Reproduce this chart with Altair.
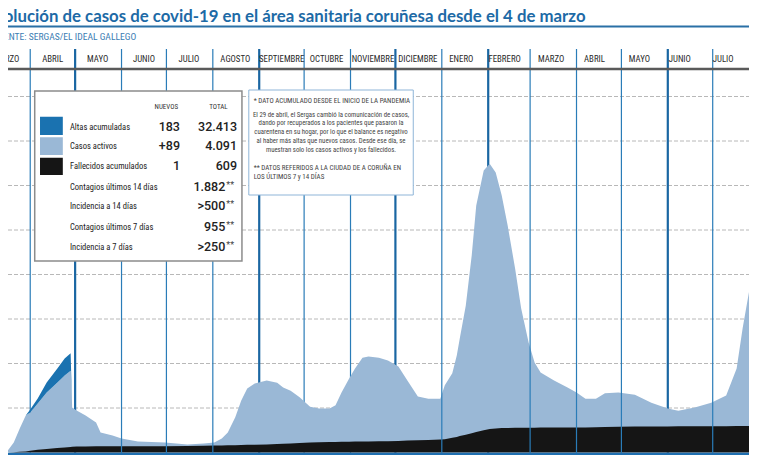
import altair as alt
import pandas as pd

# ---------------- data ----------------
fechas = [
    "2020-03-04", "2020-03-10", "2020-03-17", "2020-03-21", "2020-03-25", "2020-03-29",
    "2020-04-01", "2020-04-06", "2020-04-12", "2020-04-19", "2020-04-24", "2020-04-28",
    "2020-04-29", "2020-05-02", "2020-05-08", "2020-05-15", "2020-05-18", "2020-05-26",
    "2020-06-01", "2020-06-12", "2020-06-30", "2020-07-15", "2020-07-26", "2020-08-02",
    "2020-08-07", "2020-08-11", "2020-08-16", "2020-08-20", "2020-08-24", "2020-08-29",
    "2020-09-06", "2020-09-13", "2020-09-17", "2020-09-22", "2020-09-28", "2020-10-05",
    "2020-10-11", "2020-10-18", "2020-10-22", "2020-10-26", "2020-10-31", "2020-11-04",
    "2020-11-09", "2020-11-13", "2020-11-20", "2020-11-26", "2020-12-03", "2020-12-09",
    "2020-12-16", "2020-12-23", "2020-12-31", "2021-01-03", "2021-01-08", "2021-01-11",
    "2021-01-13", "2021-01-17", "2021-01-21", "2021-01-24", "2021-01-29", "2021-02-02",
    "2021-02-06", "2021-02-10", "2021-02-14", "2021-02-19", "2021-02-23", "2021-02-28",
    "2021-03-04", "2021-03-08", "2021-03-17", "2021-03-26", "2021-04-01", "2021-04-07",
    "2021-04-14", "2021-04-20", "2021-04-29", "2021-05-10", "2021-05-21", "2021-06-01",
    "2021-06-08", "2021-06-19", "2021-06-30", "2021-07-10", "2021-07-17", "2021-07-21",
    "2021-07-26",
]
activos = [
    0, 10, 43, 217, 525, 808,
    860, 1040, 1270, 1470, 1615, 1715,
    882, 809, 693, 537, 311, 240,
    175, 109, 83, 35, 50, 68,
    155, 288, 625, 1002, 1268, 1374,
    1438, 1380, 1265, 1185, 1025, 805,
    760, 755, 822, 1110, 1417, 1644,
    1882, 1910, 1878, 1815, 1670, 1352,
    985, 928, 920, 1210, 1450, 1830,
    2190, 2900, 4000, 5090, 5840, 5960,
    5750, 5232, 4548, 3575, 2683, 1912,
    1461, 1240, 1059, 898, 787, 646,
    645, 755, 770, 715, 534, 403,
    352, 421, 530, 688, 1296, 2194,
    3152,
]
fallecidos = [
    0, 0, 2, 8, 15, 22,
    40, 60, 80, 100, 115, 125,
    128, 135, 137, 138, 139, 140,
    140, 141, 142, 145, 150, 157,
    160, 162, 165, 168, 172, 176,
    182, 190, 195, 205, 215, 225,
    230, 235, 238, 240, 243, 246,
    248, 250, 252, 255, 260, 268,
    275, 282, 290, 300, 330, 350,
    370, 400, 430, 460, 500, 530,
    540, 548, 552, 555, 557, 558,
    559, 560, 561, 562, 563, 564,
    565, 575, 580, 585, 586, 587,
    588, 589, 590, 592, 594, 596,
    598,
]
altas_fechas = ["2020-03-29", "2020-04-01", "2020-04-06", "2020-04-12",
                "2020-04-19", "2020-04-24", "2020-04-28", "2020-04-29"]
altas = [0, 67, 112, 225, 315, 380, 390, 0]

meses_inicio = ["2020-04-01", "2020-05-01", "2020-06-01", "2020-07-01", "2020-08-01",
                "2020-09-01", "2020-10-01", "2020-11-01", "2020-12-01", "2021-01-01",
                "2021-02-01", "2021-03-01", "2021-04-01", "2021-05-01", "2021-06-01",
                "2021-07-01"]
meses_nombre = ["MARZO", "ABRIL", "MAYO", "JUNIO", "JULIO", "AGOSTO", "SEPTIEMBRE",
                "OCTUBRE", "NOVIEMBRE", "DICIEMBRE", "ENERO", "FEBRERO", "MARZO",
                "ABRIL", "MAYO", "JUNIO", "JULIO"]
meses_centro = ["2020-03-16", "2020-04-16", "2020-05-16", "2020-06-16", "2020-07-16",
                "2020-08-16", "2020-09-16", "2020-10-16", "2020-11-16", "2020-12-16",
                "2021-01-14", "2021-02-12", "2021-03-15", "2021-04-13", "2021-05-13",
                "2021-06-09", "2021-07-08"]
rejilla = [1000, 2000, 3000, 4000, 5000, 6000, 7000, 8000]

leyenda_etiquetas = ["Altas acumuladas", "Casos activos", "Fallecidos acumulados",
                     "Contagios últimos 14 días", "Incidencia a 14 días",
                     "Contagios últimos 7 días", "Incidencia a 7 días"]
leyenda_nuevos = ["183", "+89", "1"]
leyenda_totales = ["32.413", "4.091", "609"]
leyenda_otros = ["1.882", ">500", "955", ">250"]

nota_1 = "* DATO ACUMULADO DESDE EL INICIO DE LA PANDEMIA"
nota_parrafo = [
    "El 29 de abril, el Sergas cambió la comunicación de casos,",
    "dando por recuperados a los pacientes que pasaron la",
    "cuarentena en su hogar, por lo que el balance es negativo",
    "al haber más altas que nuevos casos. Desde ese día, se",
    "muestran solo los casos activos y los fallecidos.",
]
nota_2 = ["** DATOS REFERIDOS A LA CIUDAD DE A CORUÑA EN", "LOS ÚLTIMOS 7 y 14 DÍAS"]

titulo = "Evolución de casos de covid-19 en el área sanitaria coruñesa desde el 4 de marzo"
fuente = "FUENTE: SERGAS/EL IDEAL GALLEGO"

# ---------------- layout helpers ----------------
W, H = 741, 447
SX = W / 757.0


def PX(x):
    return round(x * SX, 2)


def PY(y):
    return y - 3


NARROW = "Liberation Sans Narrow, Roboto Condensed, DejaVu Sans Condensed, Roboto"
LIGHT = "#9ab8d6"
DARK = "#1a72b0"
BLACK = "#151515"
TITLE_BLUE = "#1d6aa6"

ONE = pd.DataFrame({"k": [0]})

df = pd.DataFrame({"fecha": fechas, "activos": activos, "fallecidos": fallecidos})
df["cero"] = 0
df["tope"] = df["activos"] + df["fallecidos"]
dfa = pd.DataFrame({"fecha": altas_fechas, "altas": altas}).merge(df, on="fecha")
dfa["tope_altas"] = dfa["tope"] + dfa["altas"]

xscale = alt.Scale(
    type="utc",
    domain=[alt.DateTime(year=2020, month=3, date=17, hours=3, minutes=36, utc=True),
            alt.DateTime(year=2021, month=7, date=25, hours=6, utc=True)],
)
yscale = alt.Scale(domain=[-56, 9989], nice=False, zero=False)
X = alt.X("fecha:T", scale=xscale, axis=None)


def T(s, x, y, size, color="#222", align="left", weight="normal", font=NARROW,
      baseline="middle"):
    return alt.Chart(ONE).mark_text(
        align=align, baseline=baseline, font=font, fontSize=size,
        fontWeight=weight, color=color
    ).encode(x=alt.value(PX(x)), y=alt.value(PY(y)), text=alt.value(s))


def RECT(x1, y1, x2, y2, fill, stroke=None, sw=0):
    kw = dict(fill=fill)
    if stroke:
        kw.update(stroke=stroke, strokeWidth=sw)
    return alt.Chart(ONE).mark_rect(**kw).encode(
        x=alt.value(PX(x1)), x2=alt.value(PX(x2)),
        y=alt.value(PY(y1)), y2=alt.value(PY(y2)))


def HLINE(y, color, sw):
    return alt.Chart(ONE).mark_rule(color=color, strokeWidth=sw).encode(
        x=alt.value(0), x2=alt.value(W), y=alt.value(PY(y)))


layers = []

# gridlines
layers.append(
    alt.Chart(pd.DataFrame({"v": rejilla})).mark_rule(
        color="#b8b8b8", strokeDash=[4, 2], strokeWidth=1
    ).encode(y=alt.Y("v:Q", scale=yscale, axis=None), x=alt.value(0), x2=alt.value(W))
)

# month lines
gruesos = {"2020-05-01", "2020-09-01", "2020-12-01", "2021-02-01", "2021-06-01"}
delante = {"2020-06-01", "2020-07-01", "2020-08-01", "2021-01-01", "2021-03-01",
           "2021-04-01", "2021-05-01", "2021-07-01"}
dm = pd.DataFrame({"fecha": meses_inicio})
dm["grueso"] = dm["fecha"].isin(gruesos)
dm["delante"] = dm["fecha"].isin(delante)


def month_rules(sub, color, sw):
    return alt.Chart(sub).mark_rule(color=color, strokeWidth=sw).encode(
        x=X, y=alt.value(PY(44)), y2=alt.value(PY(448)))


layers.append(month_rules(dm[dm.grueso], "#1a66a2", 2.2))
layers.append(month_rules(dm[(~dm.grueso) & (~dm.delante)], "#2a7cb8", 1.2))

# areas
layers.append(
    alt.Chart(df).mark_area(color=LIGHT, clip=True).encode(
        x=X, y=alt.Y("tope:Q", scale=yscale, axis=None), y2="cero:Q")
)
layers.append(
    alt.Chart(dfa).mark_area(color=DARK, clip=True).encode(
        x=X, y=alt.Y("tope_altas:Q", scale=yscale, axis=None), y2="tope:Q")
)
layers.append(
    alt.Chart(df).mark_area(color=BLACK, clip=True).encode(
        x=X, y=alt.Y("fallecidos:Q", scale=yscale, axis=None), y2="cero:Q")
)

layers.append(month_rules(dm[dm.delante], "#2a7cb8", 1.2))

# baseline
layers.append(HLINE(449, "#1f6fb0", 2.5))

# header: title, underline, source
layers.append(T(titulo, 590, 17, 16.8, color=TITLE_BLUE, align="right", weight="bold",
                font="Lato", baseline="alphabetic"))
layers.append(HLINE(21.5, "#2a70a6", 2))
layers.append(T(fuente, 131, 31.7, 9.6, color="#3b7db3", align="right"))

# month labels and header line
layers.append(
    alt.Chart(pd.DataFrame({"fecha": meses_centro, "mes": meses_nombre})).mark_text(
        font=NARROW, fontSize=8.8, color="#2a2a2a", baseline="middle", align="center"
    ).encode(x=X, y=alt.value(PY(54)), text="mes:N")
)
layers.append(HLINE(64, "#5a5a5a", 2.5))

# legend box
layers.append(RECT(27.3, 86, 239, 256, "white", "#8c8c8c", 1.5))
layers.append(T("NUEVOS", 161.7, 101.7, 7, color="#333", align="center"))
layers.append(T("TOTAL", 215, 101.7, 7, color="#333", align="center"))
layers.append(RECT(32.7, 111.7, 56, 130, DARK))
layers.append(RECT(32.7, 132.3, 56, 150, LIGHT))
layers.append(RECT(32.7, 152.7, 56, 170, BLACK))
rows_y = [121.7, 141.3, 161.3, 181.7, 200.7, 221.7, 242.3]
for lab, yy in zip(leyenda_etiquetas, rows_y):
    layers.append(T(lab, 63.3, yy, 8.5, color="#222"))
for val, yy in zip(leyenda_nuevos, rows_y[:3]):
    layers.append(T(val, 175.7, yy, 12.5, color="#222", align="right", weight=500,
                    font="Roboto"))
for val, yy in zip(leyenda_totales, rows_y[:3]):
    layers.append(T(val, 234, yy, 12.5, color="#222", align="right", weight=500,
                    font="Roboto"))
for val, yy in zip(leyenda_otros, rows_y[3:]):
    layers.append(T(val, 222, yy, 12.5, color="#222", align="right", weight=500,
                    font="Roboto"))
    layers.append(T("**", 223, yy - 2, 9, color="#444", align="left", font="Roboto"))

# note box
layers.append(RECT(246, 85, 414, 190, "white", "#8fb5d8", 1))
layers.append(T(nota_1, 251, 96, 7, color="#444"))
for i, line in enumerate(nota_parrafo):
    layers.append(T(line, 330, 109.5 + 8.8 * i, 6.8, color="#444", align="center"))
layers.append(T(nota_2[0], 251, 163, 7, color="#444"))
layers.append(T(nota_2[1], 251, 172, 7, color="#444"))

chart = alt.layer(*layers).properties(
    width=W, height=H, padding=0,
    autosize=alt.AutoSizeParams(type="none"),
    background="white",
).configure_view(stroke=None)

chart.save("out.html", embed_options={"renderer": "svg", "actions": False})
